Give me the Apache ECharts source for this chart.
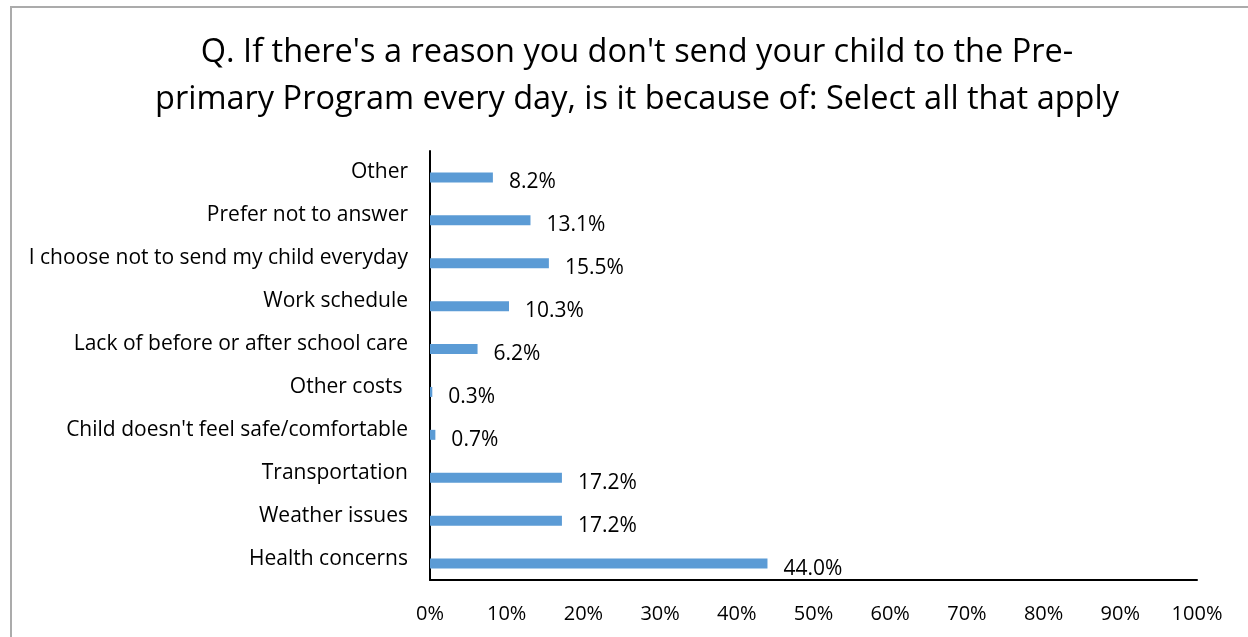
<!DOCTYPE html>
<html>
<head>
<meta charset="utf-8">
<script src="https://cdn.jsdelivr.net/npm/echarts@6/dist/echarts.min.js"></script>
<style>
  html, body { margin: 0; padding: 0; background: #fff; }
  #chart { width: 1248px; height: 637px; }
</style>
</head>
<body>
<div id="chart"></div>
<script>
// Survey question and answers (bottom to top on the category axis)
const titleText = "Q. If there's a reason you don't send your child to the Pre-\nprimary Program every day, is it because of: Select all that apply";
const reasons = [
  "Health concerns",
  "Weather issues",
  "Transportation",
  "Child doesn't feel safe/comfortable",
  "Other costs ",
  "Lack of before or after school care",
  "Work schedule",
  "I choose not to send my child everyday",
  "Prefer not to answer",
  "Other"
];
const shares = [44.0, 17.2, 17.2, 0.7, 0.3, 6.2, 10.3, 15.5, 13.1, 8.2];
const pctTicks = [0, 10, 20, 30, 40, 50, 60, 70, 80, 90, 100];

const FONT = "Open Sans";
const chart = echarts.init(document.getElementById('chart'), null, { renderer: 'canvas' });

chart.setOption({
  animation: false,
  backgroundColor: '#ffffff',
  textStyle: { fontFamily: FONT },
  title: {
    text: titleText,
    left: 632,
    textAlign: 'center',
    top: 24,
    textStyle: { fontFamily: FONT, fontSize: 32.5, fontWeight: 'normal', color: '#000', lineHeight: 47 }
  },
  graphic: [{
    type: 'rect',
    shape: { x: 11, y: 7, width: 1260, height: 700 },
    style: { fill: 'none', stroke: '#ababab', lineWidth: 2 },
    silent: true,
    z: 10
  }],
  grid: { left: 430, right: 51, top: 151, bottom: 57, containLabel: false },
  xAxis: {
    type: 'value',
    min: pctTicks[0],
    max: pctTicks[pctTicks.length - 1],
    interval: 10,
    axisLine: { show: true, lineStyle: { color: '#000', width: 2 } },
    axisTick: { show: false },
    splitLine: { show: false },
    axisLabel: {
      color: '#000', fontSize: 20, fontFamily: FONT, margin: 24,
      formatter: v => v + '%'
    }
  },
  yAxis: {
    type: 'category',
    data: reasons,
    axisLine: { show: true, lineStyle: { color: '#000', width: 2 } },
    axisTick: { show: false },
    axisLabel: { color: '#000', fontSize: 21, fontFamily: FONT, margin: 22, padding: [4, 0, 0, 0] }
  },
  series: [
    {
      // empty companion series: keeps the bars in the lower half of each band
      name: 'spacer',
      type: 'bar',
      barWidth: 10,
      barGap: '0%',
      data: reasons.map(() => null),
      silent: true
    },
    {
      name: 'Share',
      type: 'bar',
      barWidth: 10,
      barGap: '0%',
      data: shares,
      itemStyle: { color: '#5b9bd5' },
      label: {
        show: true,
        position: 'right',
        distance: 16,
        offset: [0, 5],
        color: '#000',
        fontSize: 21,
        fontFamily: FONT,
        formatter: p => p.value.toFixed(1) + '%'
      }
    }
  ]
});
</script>
</body>
</html>
